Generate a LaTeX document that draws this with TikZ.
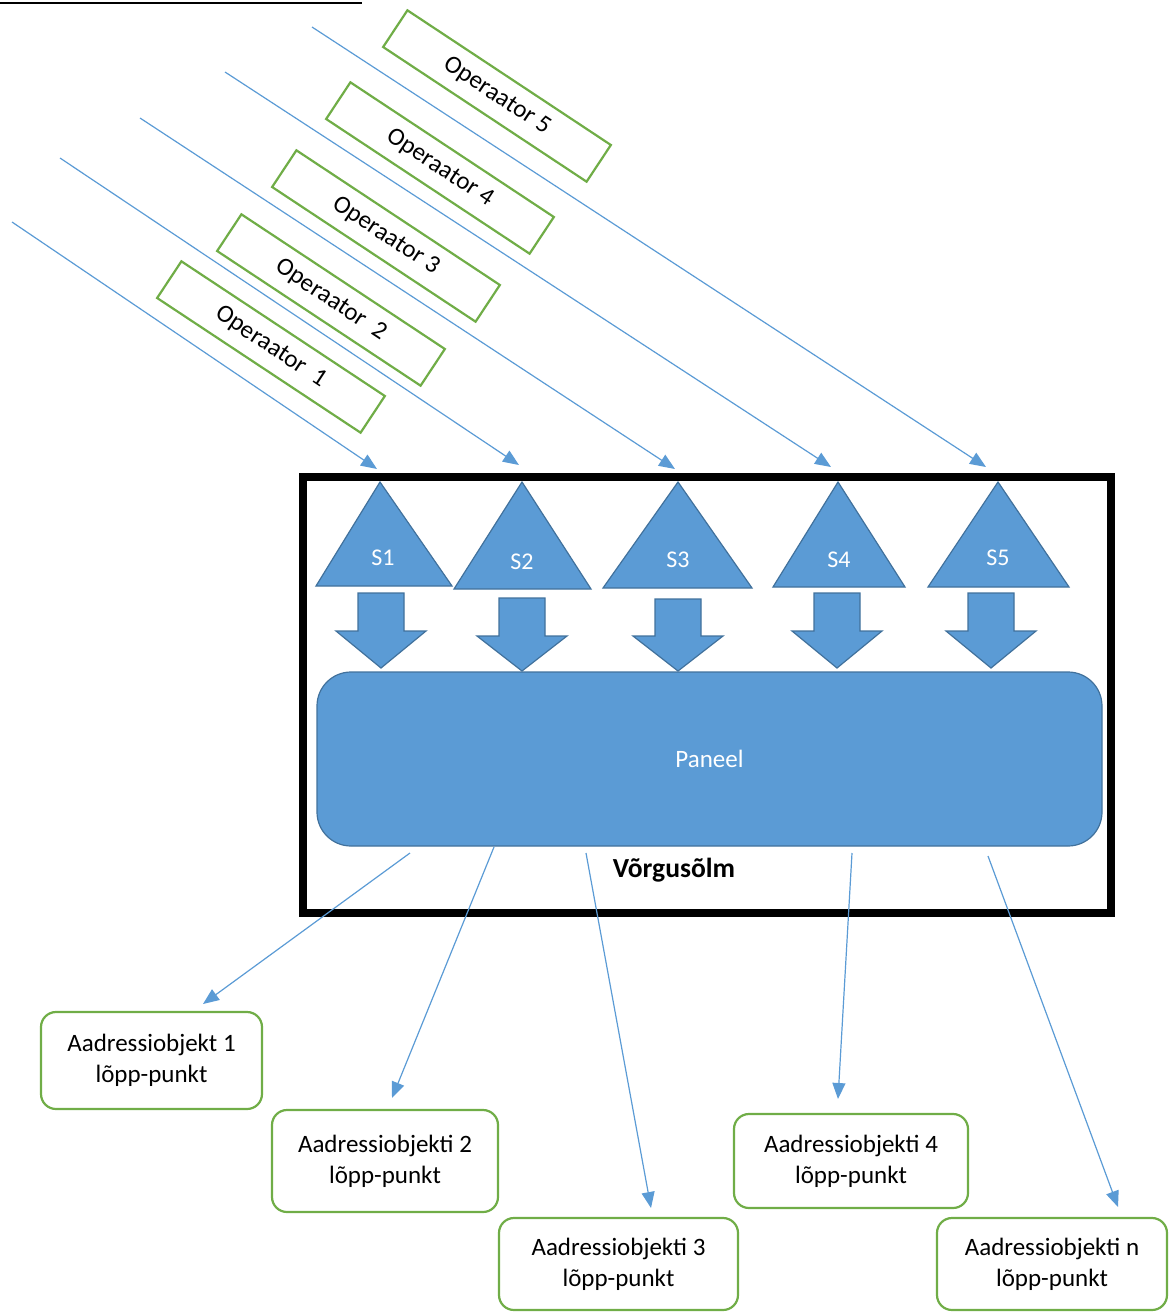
\documentclass[tikz,border=0pt]{standalone}
\usepackage{fontspec}
\setmainfont{Carlito}
\usetikzlibrary{arrows.meta}

\definecolor{officeblue}{HTML}{5B9BD5}
\definecolor{edgeblue}{HTML}{41719C}
\definecolor{officegreen}{HTML}{70AD47}

\begin{document}
\begin{tikzpicture}[
    x=0.5pt, y=-0.5pt,
    operator/.style={rectangle, draw=officegreen, line width=1.1pt, minimum width=122pt, minimum height=22pt, inner sep=0pt, rotate=-33.5, font=\fontsize{12.5}{14}\selectfont},
    endpoint/.style={rectangle, rounded corners=7.5pt, draw=officegreen, line width=1.1pt, align=center, inner sep=0pt, font=\fontsize{12.5}{15.5}\selectfont},
    feed/.style={draw=officeblue, line width=0.6pt, -{Triangle[length=8pt,width=6.5pt]}},
    station/.style={fill=officeblue, draw=edgeblue, line width=0.6pt},
    slabel/.style={text=white, font=\fontsize{12}{14}\selectfont}
]
\useasboundingbox (0,0) rectangle (1170,1312);

% Title underline
\draw[line width=1pt] (0,3) -- (362,3);

% Operators
\node[operator] (op1) at (271,347) {Operaator~ 1};
\node[operator] (op2) at (331,300) {Operaator~ 2};
\node[operator] (op3) at (386,236) {Operaator 3};
\node[operator] (op4) at (440,168) {Operaator 4};
\node[operator] (op5) at (497,96) {Operaator 5};

% Network node frame
\node[draw, line width=4pt, minimum width=404pt, minimum height=218pt, inner sep=0pt] (mesh) at (707,695) {};
\node[font=\fontsize{13.8}{16}\selectfont\bfseries] (meshlabel) at (674,870) {Võrgusõlm};

% Stations and block arrows
\foreach \n/\ax/\bl/\br/\by/\lx/\ly in {1/380/316/452/586/383/558, 2/522/454/591/589/522/562, 3/678/603/752/588/678/560, 4/838/773/905/587/839/560, 5/998/928/1069/587/998/558}{
    \path[station] (\ax,482) -- (\br,\by) -- (\bl,\by) -- cycle;
    \node[slabel] (s\n) at (\lx,\ly) {S\n};
}
\foreach \c/\t/\h/\e in {381/593/631/668, 522/598/636/671, 678/599/636/671, 837/593/631/668, 991/593/631/668}{
    \path[station] ({\c-23},\t) -- ({\c+23},\t) -- ({\c+23},\h) -- ({\c+45},\h) -- (\c,\e) -- ({\c-45},\h) -- ({\c-23},\h) -- cycle;
}

% Panel
\node[station, rounded corners=17pt, minimum width=392.5pt, minimum height=87pt, text=white, font=\fontsize{12.5}{14}\selectfont] (panel) at (709.5,759) {Paneel};

% Address endpoints
\node[endpoint, minimum width=110.5pt, minimum height=48.5pt] (adr1) at (151.5,1060.5) {Aadressiobjekt 1\\lõpp-punkt};
\node[endpoint, minimum width=113pt, minimum height=51pt] (adr2) at (385,1161) {Aadressiobjekti 2\\lõpp-punkt};
\node[endpoint, minimum width=119.5pt, minimum height=46pt] (adr3) at (618.5,1264) {Aadressiobjekti 3\\lõpp-punkt};
\node[endpoint, minimum width=117pt, minimum height=47pt] (adr4) at (851,1161) {Aadressiobjekti 4\\lõpp-punkt};
\node[endpoint, minimum width=115pt, minimum height=46pt] (adrn) at (1052,1264) {Aadressiobjekti n\\lõpp-punkt};

% Feed lines in
\foreach \n/\sx/\sy/\tx/\ty in {1/12/222/377/469, 2/60/158/519/465, 3/140/118/675/469, 4/225/72/831/467, 5/312/27/986/467}{
    \coordinate (src\n) at (\sx,\sy);
    \coordinate (in\n) at (\tx,\ty);
    \draw[feed] (src\n) -- (in\n);
}

% Feed lines out
\foreach \n/\sx/\sy/\tx/\ty in {1/410/853/203/1004, 2/494/847/392/1098, 3/586/853/651/1208, 4/852/853/838/1099, 5/988/856/1118/1207}{
    \coordinate (out\n) at (\sx,\sy);
    \coordinate (tip\n) at (\tx,\ty);
    \draw[feed] (out\n) -- (tip\n);
}
\end{tikzpicture}
\end{document}
